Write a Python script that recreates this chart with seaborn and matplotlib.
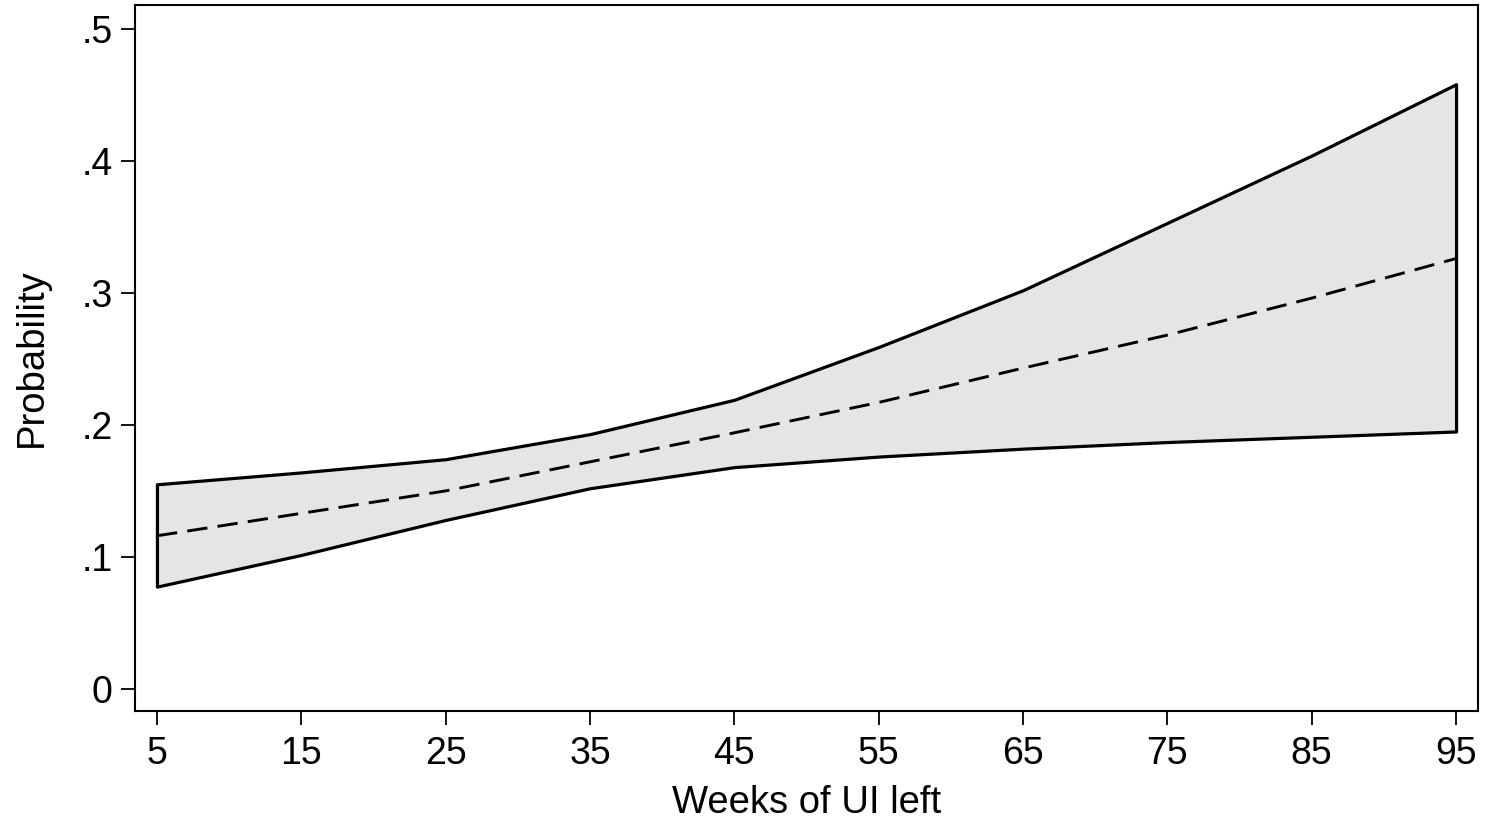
import matplotlib
matplotlib.use("Agg")
import matplotlib.pyplot as plt
import seaborn as sns
import pandas as pd

weeks = [5, 15, 25, 35, 45, 55, 65, 75, 85, 95]
upper = [0.155, 0.164, 0.174, 0.193, 0.219, 0.259, 0.302, 0.353, 0.404, 0.458]
mid = [0.116, 0.133, 0.150, 0.172, 0.194, 0.217, 0.243, 0.268, 0.296, 0.326]
lower = [0.0775, 0.1015, 0.128, 0.152, 0.168, 0.176, 0.182, 0.187, 0.191, 0.195]

xticks = [5, 15, 25, 35, 45, 55, 65, 75, 85, 95]
yticks = [0, 0.1, 0.2, 0.3, 0.4, 0.5]
yticklabels = ["0", ".1", ".2", ".3", ".4", ".5"]

df = pd.DataFrame({"weeks": weeks, "upper": upper, "mid": mid, "lower": lower})

sns.set_theme(style="white")
plt.rcParams["font.family"] = ["Liberation Sans", "DejaVu Sans"]

fig = plt.figure(figsize=(14.86, 8.22), dpi=100)
ax = fig.add_axes([135 / 1486, 1 - 711 / 822, (1478 - 135) / 1486, (711 - 5) / 822])

ax.fill_between(df["weeks"], df["lower"], df["upper"], facecolor="#e5e5e5",
                edgecolor="black", linewidth=2.3, zorder=1)
sns.lineplot(data=df, x="weeks", y="mid", ax=ax, color="black", linewidth=2.1,
             linestyle=(0, (7.0, 3.5)), zorder=2)

ax.set_xlim(3.48, 96.52)
ax.set_ylim(-0.0167, 0.518)
ax.set_xticks(xticks)
ax.set_xticklabels([str(t) for t in xticks])
ax.set_yticks(yticks)
ax.set_yticklabels(yticklabels)
ax.tick_params(axis="both", which="major", direction="out", length=10, width=1.3,
               color="black", labelsize=27, labelcolor="black", pad=6,
               left=True, bottom=True)
ax.tick_params(axis="x", pad=8)
for s in ax.spines.values():
    s.set_visible(True)
    s.set_color("black")
    s.set_linewidth(1.5)

ax.set_xlabel("Weeks of UI left", fontsize=27.5, color="black", labelpad=9)
ax.set_ylabel("Probability", fontsize=27.5, color="black", labelpad=23)
ax.set_facecolor("white")
fig.patch.set_facecolor("white")

fig.savefig("out.png", dpi=100, facecolor="white")
